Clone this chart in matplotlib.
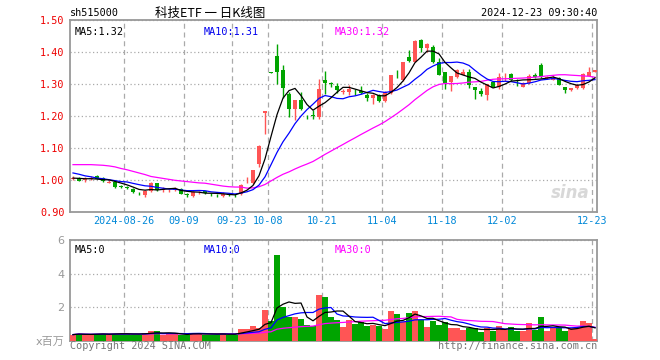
import matplotlib.pyplot as plt
import numpy as np
import pandas as pd


# daily bars 2024-08-13 .. 2024-12-23, one per trading day
open_ = [1.003, 1.005, 0.999, 1.003, 1.011, 1.005, 0.992, 0.993, 0.981, 0.978,
         0.972, 0.959, 0.953, 0.966, 0.990, 0.968, 0.965, 0.969, 0.973, 0.955,
         0.951, 0.961, 0.965, 0.956, 0.953, 0.951, 0.956, 0.953, 0.957, 0.993,
         0.991, 1.050, 1.208, 1.336, 1.388, 1.345, 1.270, 1.223, 1.249, 1.197,
         1.202, 1.197, 1.311, 1.303, 1.295, 1.276, 1.274, 1.278, 1.279, 1.267,
         1.255, 1.267, 1.246, 1.272, 1.331, 1.311, 1.383, 1.370, 1.436, 1.412,
         1.415, 1.368, 1.336, 1.305, 1.322, 1.329, 1.339, 1.290, 1.279, 1.267,
         1.305, 1.292, 1.315, 1.330, 1.309, 1.292, 1.303, 1.327, 1.360, 1.319,
         1.313, 1.320, 1.290, 1.280, 1.287, 1.287, 1.326, 1.339]
high = [1.012, 1.008, 1.010, 1.011, 1.016, 1.008, 0.999, 0.996, 0.985, 0.982,
        0.975, 0.963, 0.968, 0.995, 0.992, 0.977, 0.972, 0.978, 0.975, 0.960,
        0.965, 0.967, 0.967, 0.960, 0.957, 0.962, 0.958, 0.957, 0.987, 1.010,
        1.032, 1.108, 1.215, 1.336, 1.426, 1.360, 1.275, 1.250, 1.275, 1.204,
        1.220, 1.316, 1.342, 1.307, 1.303, 1.283, 1.296, 1.285, 1.295, 1.272,
        1.270, 1.270, 1.277, 1.328, 1.345, 1.370, 1.405, 1.436, 1.440, 1.428,
        1.422, 1.380, 1.336, 1.326, 1.348, 1.346, 1.346, 1.292, 1.286, 1.300,
        1.310, 1.335, 1.335, 1.335, 1.317, 1.305, 1.330, 1.333, 1.366, 1.325,
        1.328, 1.322, 1.292, 1.288, 1.300, 1.335, 1.354, 1.345]
low = [0.999, 0.996, 0.995, 1.000, 1.002, 0.994, 0.990, 0.976, 0.975, 0.971,
       0.958, 0.953, 0.948, 0.963, 0.965, 0.962, 0.962, 0.966, 0.955, 0.948,
       0.948, 0.955, 0.955, 0.951, 0.947, 0.946, 0.949, 0.947, 0.952, 0.990,
       0.988, 1.040, 1.145, 1.335, 1.300, 1.256, 1.197, 1.188, 1.220, 1.190,
       1.190, 1.190, 1.270, 1.290, 1.272, 1.270, 1.266, 1.265, 1.270, 1.248,
       1.236, 1.244, 1.244, 1.270, 1.318, 1.310, 1.370, 1.368, 1.400, 1.400,
       1.365, 1.329, 1.285, 1.277, 1.320, 1.327, 1.288, 1.253, 1.263, 1.250,
       1.290, 1.285, 1.310, 1.310, 1.294, 1.290, 1.300, 1.318, 1.320, 1.315,
       1.312, 1.296, 1.272, 1.278, 1.284, 1.283, 1.324, 1.337]
close = [1.006, 0.998, 1.002, 1.005, 1.004, 0.996, 0.995, 0.978, 0.979, 0.976,
         0.962, 0.958, 0.966, 0.990, 0.968, 0.972, 0.967, 0.973, 0.957, 0.954,
         0.963, 0.963, 0.958, 0.955, 0.952, 0.956, 0.953, 0.952, 0.985, 0.995,
         1.030, 1.105, 1.215, 1.335, 1.336, 1.289, 1.222, 1.249, 1.223, 1.196,
         1.201, 1.285, 1.303, 1.300, 1.282, 1.278, 1.284, 1.277, 1.272, 1.255,
         1.267, 1.246, 1.275, 1.327, 1.330, 1.369, 1.373, 1.435, 1.412, 1.424,
         1.370, 1.329, 1.303, 1.326, 1.344, 1.339, 1.298, 1.280, 1.268, 1.300,
         1.292, 1.322, 1.317, 1.314, 1.308, 1.303, 1.324, 1.322, 1.322, 1.321,
         1.320, 1.298, 1.280, 1.286, 1.297, 1.330, 1.339, 1.344]
# volume, millions
volume = [0.38, 0.44, 0.38, 0.38, 0.44, 0.44, 0.38, 0.44, 0.44, 0.44,
          0.38, 0.38, 0.50, 0.58, 0.58, 0.34, 0.42, 0.42, 0.38, 0.38,
          0.50, 0.44, 0.38, 0.38, 0.38, 0.50, 0.38, 0.38, 0.70, 0.74,
          0.88, 0.78, 1.85, 1.20, 5.10, 2.00, 1.45, 1.43, 1.30, 0.95,
          0.87, 2.76, 2.60, 1.43, 1.25, 0.85, 1.25, 1.00, 1.15, 0.88,
          0.95, 0.88, 0.70, 1.79, 1.60, 1.15, 1.67, 1.79, 1.25, 0.85,
          1.18, 0.95, 1.15, 0.76, 0.76, 0.64, 0.76, 0.76, 0.52, 0.76,
          0.62, 0.88, 0.66, 0.82, 0.58, 0.58, 1.07, 0.68, 1.43, 0.58,
          0.76, 0.78, 0.58, 0.78, 0.78, 1.18, 1.07, 0.10]

# moving averages before enough bars exist in this window
ma5_head = [1.006, 1.005, 1.004, 1.004]
ma10_head = [1.022, 1.018, 1.013, 1.010, 1.006, 1.004, 1.001, 0.998, 0.995]
ma30_head = [1.048, 1.048, 1.048, 1.048, 1.047, 1.046, 1.044, 1.041, 1.036, 1.032,
             1.027, 1.022, 1.017, 1.011, 1.008, 1.005, 1.002, 0.999, 0.997, 0.995,
             0.993, 0.991, 0.990, 0.987, 0.984, 0.981, 0.979, 0.978, 0.978]

tick_idx = [9, 19, 27, 33, 42, 52, 62, 72, 87]
tick_labels = ['2024-08-26', '09-09', '09-23', '10-08', '10-21',
               '11-04', '11-18', '12-02', '12-23']

RED = '#ff5555'
GREEN = '#00a400'
GRID = '#aaaaaa'
FRAME = '#999999'
MONO = 'DejaVu Sans Mono'


def moving_avg(values, n, head=None):
    ma = pd.Series(values).rolling(n, min_periods=1).mean().to_numpy()
    if head is not None:
        ma[:len(head)] = head
    return ma


def style_axes(ax):
    for sp in ax.spines.values():
        sp.set_color(FRAME)
        sp.set_linewidth(1.3)
    ax.set_xlim(-0.5, 87.33)
    ax.set_xticks([i - 0.5 for i in tick_idx])
    ax.grid(axis='x', color=GRID, linestyle=(0, (4, 3)), linewidth=0.9)
    ax.grid(axis='y', color=GRID, linestyle=(0, (1, 2)), linewidth=0.9)
    ax.set_axisbelow(True)
    ax.tick_params(length=0)


def main():
    plt.rcParams['font.family'] = ['DejaVu Sans Mono', 'Noto Sans CJK SC']
    fig = plt.figure(figsize=(6.6, 3.6), dpi=100)
    W, H = 660.0, 360.0
    ax1 = fig.add_axes([70 / W, 1 - 212 / H, 527 / W, 192 / H])
    ax2 = fig.add_axes([70 / W, 1 - 341 / H, 527 / W, 101 / H])

    x = np.arange(len(close))
    o = np.array(open_)
    c = np.array(close)
    up = c >= o
    colors = np.where(up, RED, GREEN)

    # price panel
    style_axes(ax1)
    ax1.vlines(x, low, high, colors=colors, linewidth=1, zorder=2)
    body = np.maximum(np.abs(c - o), 0.002)
    ax1.bar(x, body, bottom=np.minimum(o, c), width=0.8, color=colors,
            linewidth=0, zorder=3)
    ax1.plot(x, moving_avg(close, 30, ma30_head), color='#ff00ff', lw=0.9, zorder=4)
    ax1.plot(x, moving_avg(close, 10, ma10_head), color='#0000ff', lw=0.9, zorder=4)
    ax1.plot(x, moving_avg(close, 5, ma5_head), color='black', lw=0.9, zorder=4)
    ax1.set_ylim(0.90, 1.50)
    ax1.set_yticks(np.arange(0.90, 1.51, 0.10))
    ax1.set_yticklabels([f'{v:.2f}' for v in np.arange(0.90, 1.51, 0.10)],
                        color='#ee0000', fontsize=7.3)
    ax1.set_xticklabels(tick_labels, color='#0088d8', fontsize=7.3)
    ax1.tick_params(axis='y', pad=4)
    ax1.tick_params(axis='x', pad=3)

    ax1.text(0.008, 0.965, 'MA5:1.32', transform=ax1.transAxes, fontsize=7.3,
             color='black', va='top')
    ax1.text(0.254, 0.965, 'MA10:1.31', transform=ax1.transAxes, fontsize=7.3,
             color='#0000ee', va='top')
    ax1.text(0.502, 0.965, 'MA30:1.32', transform=ax1.transAxes, fontsize=7.3,
             color='#ff00ff', va='top')
    ax1.text(0.985, 0.1, 'sina', transform=ax1.transAxes, fontsize=12,
             fontstyle='italic', fontweight='bold', family='DejaVu Sans',
             color='#d8d8d8', ha='right', va='center', zorder=1)

    # volume panel
    style_axes(ax2)
    ax2.bar(x, volume, width=0.85, color=colors, linewidth=0, zorder=3)
    ax2.plot(x, moving_avg(volume, 30), color='#ff00ff', lw=0.9, zorder=4)
    ax2.plot(x, moving_avg(volume, 10), color='#0000ff', lw=0.9, zorder=4)
    ax2.plot(x, moving_avg(volume, 5), color='black', lw=0.9, zorder=4)
    ax2.set_ylim(0, 6)
    ax2.set_yticks([0, 2, 4, 6])
    ax2.set_yticklabels(['x百万', '2', '4', '6'], color='#999999', fontsize=8,
                        family=['DejaVu Sans', 'Noto Sans CJK SC'])
    ax2.set_xticklabels([])
    ax2.tick_params(axis='y', pad=4)

    ax2.text(0.008, 0.955, 'MA5:0', transform=ax2.transAxes, fontsize=7.3,
             color='black', va='top')
    ax2.text(0.254, 0.955, 'MA10:0', transform=ax2.transAxes, fontsize=7.3,
             color='#0000ee', va='top')
    ax2.text(0.502, 0.955, 'MA30:0', transform=ax2.transAxes, fontsize=7.3,
             color='#ff00ff', va='top')

    # header and footer
    fig.text(70 / W, 1 - 13.5 / H, 'sh515000', fontsize=7.3, va='center')
    fig.text(210 / W, 1 - 13 / H, '科技ETF 一 日K线图', fontsize=9, va='center',
             ha='center', family=['Noto Sans CJK SC', 'DejaVu Sans'])
    fig.text(597 / W, 1 - 13.5 / H, '2024-12-23 09:30:40', fontsize=7.3,
             va='center', ha='right')
    fig.text(70 / W, 1 - 346 / H, 'Copyright 2024 SINA.COM', fontsize=7.3,
             va='center', color='#777777')
    fig.text(597 / W, 1 - 346 / H, 'http://finance.sina.com.cn', fontsize=7.3,
             va='center', ha='right', color='#777777')

    fig.savefig('out.png', dpi=100)


if __name__ == "__main__":
    main()
